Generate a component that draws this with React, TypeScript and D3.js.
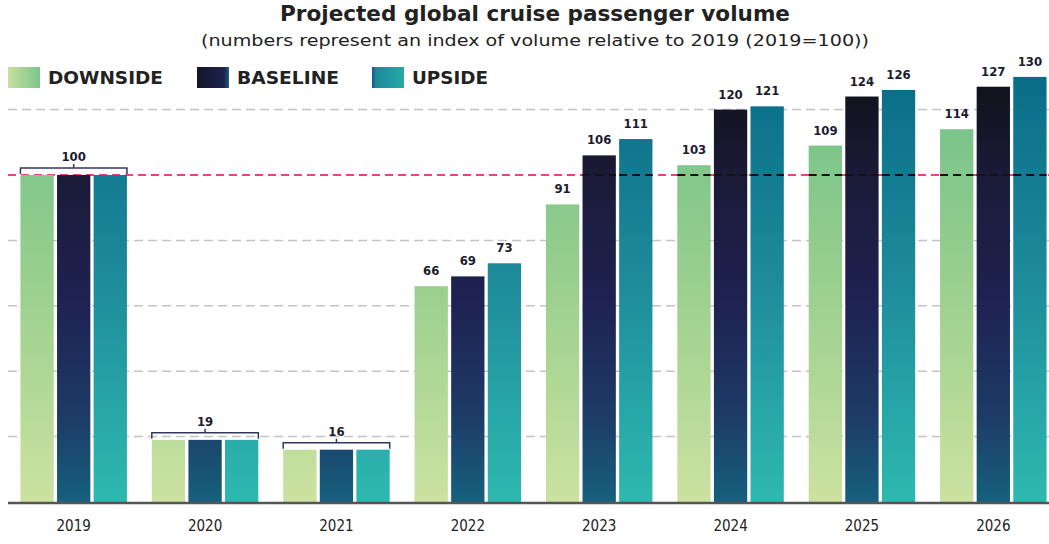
import React from "react";
import * as d3 from "d3";

const years = ["2019", "2020", "2021", "2022", "2023", "2024", "2025", "2026"];
const seriesNames = ["DOWNSIDE", "BASELINE", "UPSIDE"];
const downside = [100, 19, 16, 66, 91, 103, 109, 114];
const baseline = [100, 19, 16, 69, 106, 120, 124, 127];
const upside = [100, 19, 16, 73, 111, 121, 126, 130];
const gridValues = [20, 40, 60, 80, 120];
const refValue = 100;
const bracketYears = ["2019", "2020", "2021"];

const W = 1049;
const H = 544;
const FONT = "'DejaVu Sans Condensed', 'DejaVu Sans', sans-serif";

export default function App() {
  const y = d3.scaleLinear().domain([0, 100]).range([502, 175]);
  const x = d3.scaleBand<string>().domain(years).range([8, 1059]).paddingInner(0).paddingOuter(0);
  const inner = d3.scaleBand<string>().domain(seriesNames).range([0, 106.5]).paddingInner(0.09);
  const groupOffset = (x.bandwidth() - 106.5) / 2;
  const seriesData = [downside, baseline, upside];
  const fills = ["url(#gDown)", "url(#gBase)", "url(#gUp)"];
  const legendFills = ["url(#lDown)", "url(#lBase)", "url(#lUp)"];
  const legendX = [8, 197, 372];
  const legendW = [115, 102, 76];

  return (
    <svg width={W} height={H} style={{ position: "absolute", left: 0, top: 0, background: "#fff" }} fontFamily={FONT}>
      <defs>
        <linearGradient id="gDown" gradientUnits="userSpaceOnUse" x1="0" x2="0" y1={y(135)} y2={y(0)}>
          <stop offset="0%" stopColor="#6cbf88" />
          <stop offset="50%" stopColor="#99cf8e" />
          <stop offset="100%" stopColor="#cce2a1" />
        </linearGradient>
        <linearGradient id="gBase" gradientUnits="userSpaceOnUse" x1="0" x2="0" y1={y(135)} y2={y(0)}>
          <stop offset="0%" stopColor="#0f0f14" />
          <stop offset="25%" stopColor="#1a1a36" />
          <stop offset="55%" stopColor="#1f2252" />
          <stop offset="80%" stopColor="#1d3a66" />
          <stop offset="100%" stopColor="#16607e" />
        </linearGradient>
        <linearGradient id="gUp" gradientUnits="userSpaceOnUse" x1="0" x2="0" y1={y(135)} y2={y(0)}>
          <stop offset="0%" stopColor="#086a86" />
          <stop offset="50%" stopColor="#1e8b9b" />
          <stop offset="100%" stopColor="#2eb9b0" />
        </linearGradient>
        <linearGradient id="lDown" x1="0" x2="1" y1="0" y2="0">
          <stop offset="0%" stopColor="#c6e0a0" />
          <stop offset="100%" stopColor="#7cc68a" />
        </linearGradient>
        <linearGradient id="lBase" x1="0" x2="1" y1="0" y2="0">
          <stop offset="0%" stopColor="#14142a" />
          <stop offset="85%" stopColor="#1d2350" />
          <stop offset="100%" stopColor="#1b5f86" />
        </linearGradient>
        <linearGradient id="lUp" x1="0" x2="1" y1="0" y2="0">
          <stop offset="0%" stopColor="#1a4f8a" />
          <stop offset="12%" stopColor="#1a8a9a" />
          <stop offset="100%" stopColor="#27aaa8" />
        </linearGradient>
      </defs>

      {/* Title */}
      <text x={535} y={21} textAnchor="middle" fontSize={20.5} fontWeight="bold" fill="#222" fontFamily="'DejaVu Sans', sans-serif" textLength={510} lengthAdjust="spacingAndGlyphs">
        Projected global cruise passenger volume
      </text>
      <text x={535} y={46} textAnchor="middle" fontSize={16.5} fill="#222" fontFamily="'DejaVu Sans', sans-serif" textLength={668} lengthAdjust="spacingAndGlyphs">
        (numbers represent an index of volume relative to 2019 (2019=100))
      </text>

      {/* Legend */}
      {seriesNames.map((name, i) => (
        <g key={name}>
          <rect x={legendX[i]} y={67} width={32} height={21} fill={legendFills[i]} />
          <text x={legendX[i] + 40} y={84} fontSize={17} fontWeight="bold" fill="#222" fontFamily="'DejaVu Sans', sans-serif" textLength={legendW[i]} lengthAdjust="spacingAndGlyphs">
            {name}
          </text>
        </g>
      ))}

      {/* Gridlines */}
      {gridValues.map((v) => (
        <line key={v} x1={8} x2={W} y1={y(v)} y2={y(v)} stroke="#c4c4c4" strokeWidth={1.5} strokeDasharray="9,5" />
      ))}
      <line x1={8} x2={W} y1={y(refValue)} y2={y(refValue)} stroke="#e8457e" strokeWidth={2} strokeDasharray="8,5" />

      {/* Bars */}
      {years.map((yr, gi) => (
        <g key={yr} transform={`translate(${(x(yr) ?? 0) + groupOffset},0)`}>
          {seriesNames.map((s, si) => {
            const v = seriesData[si][gi];
            const bx = inner(s) ?? 0;
            return (
              <g key={s}>
                <rect x={bx} y={y(v)} width={inner.bandwidth()} height={y(0) - y(v)} fill={fills[si]} />
                {v > refValue && (
                  <line x1={bx} x2={bx + inner.bandwidth()} y1={y(refValue)} y2={y(refValue)} stroke="#111" strokeWidth={2} strokeDasharray="8,5" />
                )}
                {!bracketYears.includes(yr) && (
                  <text x={bx + inner.bandwidth() / 2} y={y(v) - 11} textAnchor="middle" fontSize={13} fontWeight="bold" fill="#1b1b2f">
                    {v}
                  </text>
                )}
              </g>
            );
          })}
          {bracketYears.includes(yr) && (() => {
            const v = Math.max(downside[gi], baseline[gi], upside[gi]);
            const by = y(v) - 7;
            const x0 = inner(seriesNames[0]) ?? 0;
            const x1 = (inner(seriesNames[2]) ?? 0) + inner.bandwidth();
            const cx = (x0 + x1) / 2;
            return (
              <g>
                <path d={`M${x0},${by + 6}V${by}H${x1}V${by + 6}M${cx},${by}V${by - 4}`} fill="none" stroke="#33375e" strokeWidth={1.5} />
                <text x={cx} y={by - 7} textAnchor="middle" fontSize={13} fontWeight="bold" fill="#1b1b2f">
                  {v}
                </text>
              </g>
            );
          })()}
        </g>
      ))}

      {/* Axis */}
      <line x1={8} x2={W} y1={y(0) + 1} y2={y(0) + 1} stroke="#555" strokeWidth={2.5} />
      {years.map((yr) => (
        <text key={yr} x={(x(yr) ?? 0) + x.bandwidth() / 2} y={531} textAnchor="middle" fontSize={15} fill="#222">
          {yr}
        </text>
      ))}
    </svg>
  );
}
